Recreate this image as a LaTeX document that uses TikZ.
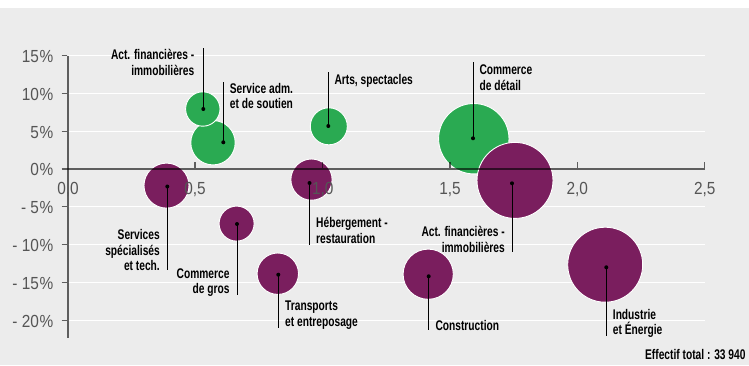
\documentclass[tikz,border=0pt]{standalone}
\usepackage{fontspec}
\setmainfont{Liberation Sans}
\newfontfamily\lblfont[FakeStretch=0.73]{Liberation Sans}
\newfontfamily\tickfont[FakeStretch=0.88]{Liberation Sans}
\definecolor{bggray}{HTML}{ECECEC}
\definecolor{bgreen}{HTML}{2AAA52}
\definecolor{bpurple}{HTML}{7A1E5E}
\definecolor{ticktext}{HTML}{555555}
\tikzset{
  grid line/.style={white, line width=1.3pt},
  axis line/.style={black, opacity=0.6, line width=2pt},
  tick line/.style={black, opacity=0.6, line width=1.4pt},
  bubG/.style={circle, fill=bgreen, draw=white, line width=0.9pt, inner sep=0pt, minimum size=#1},
  bubP/.style={circle, fill=bpurple, draw=white, line width=0.9pt, inner sep=0pt, minimum size=#1},
  dotn/.style={circle, fill=black, inner sep=0pt, minimum size=4pt},
  leader/.style={black, line width=1pt},
  lblR/.style={font=\lblfont\bfseries\fontsize{14}{15.5}\selectfont, align=right, anchor=base east, inner sep=0pt},
  lblL/.style={font=\lblfont\bfseries\fontsize{14}{15.5}\selectfont, align=left, anchor=base west, inner sep=0pt},
  ytick/.style={font=\tickfont\fontsize{17.5}{19}\selectfont, text=ticktext, anchor=base east, inner sep=0pt},
  xtick/.style={font=\tickfont\fontsize{17.5}{19}\selectfont, text=ticktext, anchor=base, inner sep=0pt},
}
\begin{document}
\begin{tikzpicture}[x=1pt,y=-1pt]
\useasboundingbox (0,0) rectangle (749,365);
\fill[white] (0,0) rectangle (749,8);
\fill[bggray] (0,8) rectangle (749,365);

% grid lines
\foreach \yy in {55.7,93.7,131.3,206.3,244.3,282.3,320.3}
  \draw[grid line] (68,\yy) -- (704.7,\yy);

% green bubbles
\node[bubG=44.4pt] (bSA) at (213,142.7) {};
\node[bubG=34.4pt] (bAFg) at (202.8,109) {};
\node[bubG=37pt] (bArts) at (328.8,126.3) {};
\node[bubG=70.4pt] (bCD) at (473.8,138.7) {};
% purple bubbles
\node[bubP=45pt] (bSS) at (166.5,185.6) {};
\node[bubP=35pt] (bCG) at (236.6,223.6) {};
\node[bubP=41.4pt] (bTR) at (277.8,273.7) {};
\node[bubP=41.2pt] (bHE) at (311.5,179.6) {};
\node[bubP=76pt] (bAFp) at (515,180.4) {};
\node[bubP=50.2pt] (bCO) at (428.2,274.2) {};
\node[bubP=75pt] (bIE) at (605.2,264.7) {};

% axes
\draw[axis line] (68,55.7) -- (68,337.7);
\draw[axis line] (61.7,168.7) -- (704.7,168.7);
\foreach \yy in {55.7,93.7,131.3,206.3,244.3,282.3,320.3}
  \draw[tick line] (61.7,\yy) -- (67,\yy);
\foreach \xx in {195,322.7,450,577.3,704.7}
  \draw[tick line] (\xx,162.3) -- (\xx,167.7);

% tick labels
\node[ytick] (y15) at (53.5,62.4) {15\kern0.6pt\%};
\node[ytick] (y10) at (53.5,100.4) {10\kern0.6pt\%};
\node[ytick] (y5) at (53.5,138) {5\kern0.6pt\%};
\node[ytick] (y0) at (53.5,175.4) {0\kern0.6pt\%};
\node[ytick] (ym5) at (53.5,213) {- 5\kern0.6pt\%};
\node[ytick] (ym10) at (53.5,251) {- 10\kern0.6pt\%};
\node[ytick] (ym15) at (53.5,289) {- 15\kern0.6pt\%};
\node[ytick] (ym20) at (53.5,327) {- 20\kern0.6pt\%};
\node[xtick] (x00) at (68,194) {0,0};
\node[xtick] (x05) at (195,194) {0,5};
\node[xtick] (x10) at (322.7,194) {1,0};
\node[xtick] (x15) at (450,194) {1,5};
\node[xtick] (x20) at (577.3,194) {2,0};
\node[xtick] (x25) at (704.7,194) {2,5};

% dots
\node[dotn] (dAFg) at (203.3,109) {};
\node[dotn] (dSA) at (223.3,142.3) {};
\node[dotn] (dArts) at (328.3,126) {};
\node[dotn] (dCD) at (473,138.3) {};
\node[dotn] (dSS) at (167.3,186.5) {};
\node[dotn] (dCG) at (237,224) {};
\node[dotn] (dTR) at (278.3,274.7) {};
\node[dotn] (dHE) at (309.5,183) {};
\node[dotn] (dAFp) at (512,183.3) {};
\node[dotn] (dCO) at (428.7,276.3) {};
\node[dotn] (dIE) at (606.3,267.3) {};

% leader ends
\coordinate (eAFg) at (203.3,48.3);
\coordinate (eSA) at (223.3,81.7);
\coordinate (eArts) at (328.3,72.3);
\coordinate (eCD) at (473,62);
\coordinate (eSS) at (167.3,270);
\coordinate (eCG) at (237,295);
\coordinate (eTR) at (278.3,328.3);
\coordinate (eHE) at (309.5,244.5);
\coordinate (eAFp) at (512,251.7);
\coordinate (eCO) at (428.7,330);
\coordinate (eIE) at (606.3,336);

\foreach \n in {AFg,SA,Arts,CD,SS,CG,TR,HE,AFp,CO,IE}
  \draw[leader] (d\n.center) -- (e\n);

% labels (base anchor = baseline of the last line)
\node[lblR] (tAFg) at (194.5,75.1) {Act. financières -\\immobilières};
\node[lblL] (tSA) at (229.7,108.7) {Service adm.\\et de soutien};
\node[lblL] (tArts) at (334.3,84.4) {Arts, spectacles};
\node[lblL] (tCD) at (479.3,90) {Commerce\\de détail};
\node[lblR] (tSS) at (160,270.5) {Services\\spécialisés\\et tech.};
\node[lblR] (tCG) at (229.7,293.7) {Commerce\\de gros};
\node[lblL] (tTR) at (285,326.3) {Transports\\et entreposage};
\node[lblL] (tHE) at (316,243) {Hébergement -\\restauration};
\node[lblR] (tAFp) at (505,252) {Act. financières -\\immobilières};
\node[lblL] (tCO) at (435.3,330) {Construction};
\node[lblL] (tIE) at (612.7,334.5) {Industrie\\et Énergie};
\node[lblR] (tEff) at (745.7,359) {Effectif total : 33 940};
\end{tikzpicture}
\end{document}
